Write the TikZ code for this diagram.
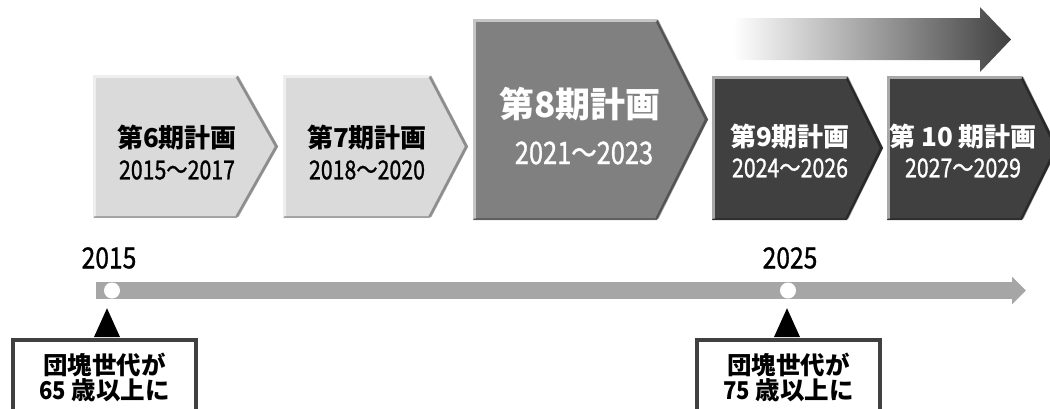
\documentclass[tikz,border=0pt]{standalone}
\usepackage{fontspec}
\usepackage{graphicx}
\newfontfamily\jp{Noto Sans CJK JP}
\newfontfamily\jpmed{Noto Sans CJK JP}[FakeBold=1.2]
\usetikzlibrary{arrows.meta}
\definecolor{lightbox}{HTML}{DADADA}
\definecolor{midbox}{HTML}{808080}
\definecolor{darkbox}{HTML}{404040}
\definecolor{tlgray}{HTML}{A6A6A6}
\definecolor{callborder}{HTML}{404040}
\newcommand{\chevron}[6]{%
  \fill[#6] (#1,#2) -- (#3,#2) -- (#4,{(#2+#5)/2}) -- (#3,#5) -- (#1,#5) -- cycle;
  \draw[white,opacity=.55,line width=2.5] (#1+1.5,#5-1) -- (#1+1.5,#2+1.5) -- (#3,#2+1.5);
  \draw[black,opacity=.35,line width=3] (#3,#2+1.5) -- (#4-1.5,{(#2+#5)/2}) -- (#3,#5-1.5);
  \draw[black,opacity=.25,line width=2] (#3,#5-1) -- (#1+1,#5-1);
}
\tikzset{
  title/.style={font=\jp\bfseries\fontsize{26}{30}\selectfont, inner sep=0pt},
  bigtitle/.style={font=\jp\bfseries\fontsize{35}{40}\selectfont, inner sep=0pt, text=white},
  datetxt/.style={font=\jpmed\fontsize{26}{30}\selectfont, inner sep=0pt},
  bigdate/.style={font=\jpmed\fontsize{31}{36}\selectfont, inner sep=0pt, text=white},
  yeartxt/.style={font=\jpmed\fontsize{29}{32}\selectfont, inner sep=0pt},
  callout/.style={draw=callborder, line width=4pt, fill=white, minimum width=183pt, minimum height=75pt,
     anchor=north west, inner sep=0pt, align=center, font=\jp\bfseries\fontsize{24.5}{25}\selectfont},
  dot/.style={circle, fill=white, minimum size=16pt, inner sep=0pt},
}
\begin{document}
\begin{tikzpicture}[x=1pt,y=-1pt]
\useasboundingbox (0,0) rectangle (1050,408);
\clip (0,0) rectangle (1050,408);

% gradient arrow
\shade[left color=white, right color=darkbox]
  (733,18) -- (980,18) -- (980,7) -- (1011,39.5) -- (980,72) -- (980,60) -- (733,60) -- cycle;

% chevrons
\chevron{93}{75}{237}{278}{218}{lightbox}
\chevron{283}{75}{430}{468}{218}{lightbox}
\chevron{473}{19}{657}{708}{220}{midbox}
\chevron{712}{76}{847}{883}{220}{darkbox}
\chevron{887}{76}{1022}{1058}{220}{darkbox}

% texts
\node[title] (p6) at (177,138) {第6期計画};
\node[datetxt] (d6) at (177,170) {\scalebox{0.82}[1]{2015～2017}};
\node[title] (p7) at (367,138) {第7期計画};
\node[datetxt] (d7) at (367,170) {\scalebox{0.82}[1]{2018～2020}};
\node[bigtitle] (p8) at (580,104) {第8期計画};
\node[bigdate] (d8) at (584,153) {\scalebox{0.82}[1]{2021～2023}};
\node[title,text=white] (p9) at (790,137) {第9期計画};
\node[datetxt,text=white] (d9) at (790,168) {\scalebox{0.82}[1]{2024～2026}};
\node[title,text=white] (p10) at (963,137) {第 10 期計画};
\node[datetxt,text=white] (d10) at (963,168) {\scalebox{0.82}[1]{2027～2029}};

% timeline
\coordinate (tlstart) at (96,290.5);
\coordinate (tlend) at (1026,290.5);
\draw[tlgray, line width=17pt, -{Triangle[length=14pt,width=27pt]}] (tlstart) -- (tlend);
\node[dot] (c2015) at (112,290.5) {};
\node[dot] (c2025) at (788,290.5) {};
\node[yeartxt] (y2015) at (109,258) {\scalebox{0.85}[1]{2015}};
\node[yeartxt] (y2025) at (790,258) {\scalebox{0.85}[1]{2025}};

% callouts
\node[callout] (call1) at (11,338) {団塊世代が\\\scalebox{0.9}[1]{65} 歳以上に};
\node[callout] (call2) at (695,338) {団塊世代が\\\scalebox{0.9}[1]{75} 歳以上に};
\fill[black] ([yshift=-9.5pt]c2015.south -| 107,0) -- (94,337) -- (120,337) -- cycle;
\fill[black] ([yshift=-9.5pt]c2025.south -| 787,0) -- (774,337) -- (800,337) -- cycle;
\end{tikzpicture}
\end{document}
